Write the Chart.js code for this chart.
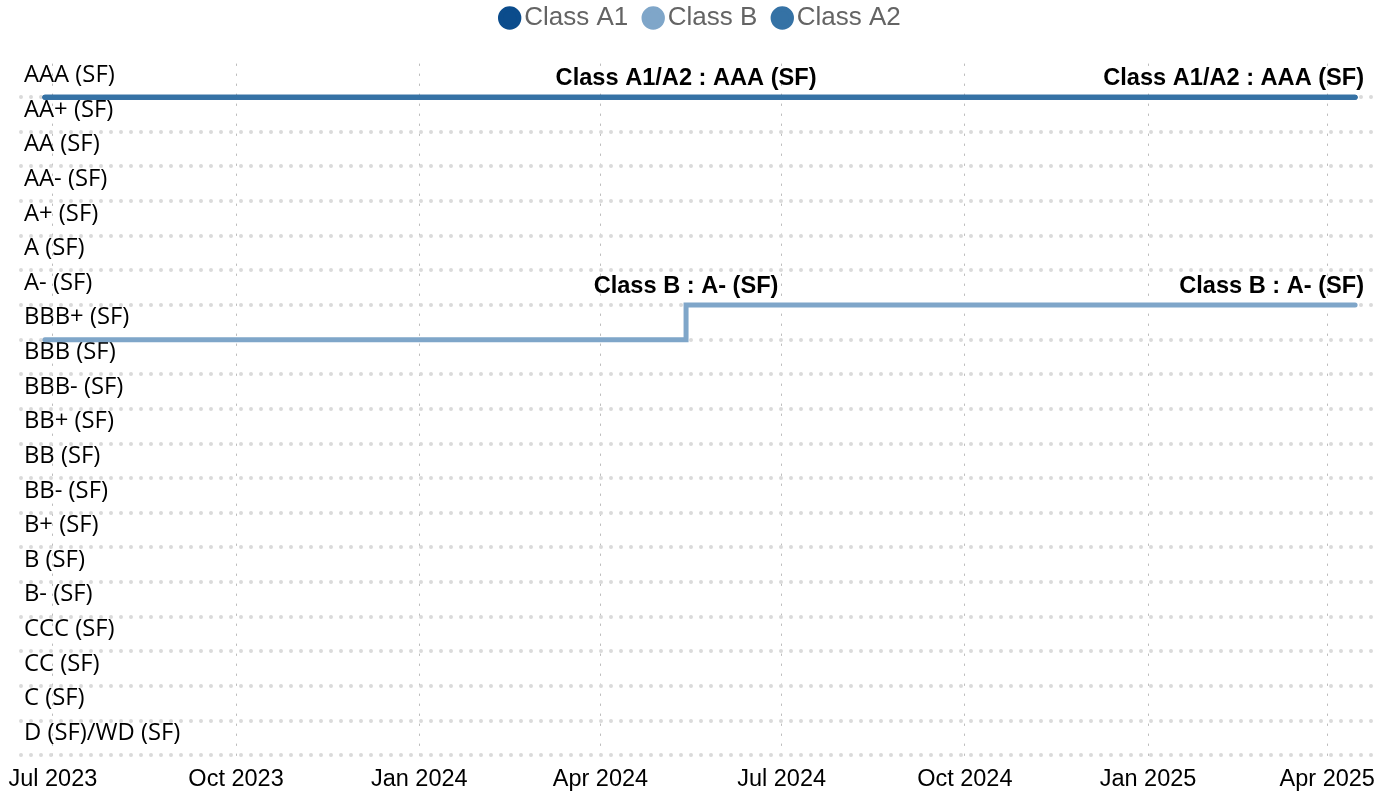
<!DOCTYPE html>
<html>
<head>
<meta charset="utf-8">
<script src="https://cdn.jsdelivr.net/npm/chart.js@4.4.1/dist/chart.umd.min.js"></script>
<style>
  html, body { margin: 0; padding: 0; background: #fff; }
  #wrap { width: 1377px; height: 792px; position: relative; }
</style>
</head>
<body>
<div id="wrap"><canvas id="ratingChart"></canvas></div>
<script>
// rating scale, top to bottom
const ratings = [
  "AAA (SF)", "AA+ (SF)", "AA (SF)", "AA- (SF)", "A+ (SF)", "A (SF)", "A- (SF)",
  "BBB+ (SF)", "BBB (SF)", "BBB- (SF)", "BB+ (SF)", "BB (SF)", "BB- (SF)",
  "B+ (SF)", "B (SF)", "B- (SF)", "CCC (SF)", "CC (SF)", "C (SF)", "D (SF)/WD (SF)"
];
const dates = ["2023-06-27", "2024-05-14", "2025-04-15"];
const classA1 = ["AAA (SF)", "AAA (SF)", "AAA (SF)"];
const classB = ["BBB+ (SF)", "A- (SF)", "A- (SF)"];
const classA2 = ["AAA (SF)", "AAA (SF)", "AAA (SF)"];

const tickDates = ["2023-07-01", "2023-10-01", "2024-01-01", "2024-04-01",
                   "2024-07-01", "2024-10-01", "2025-01-01", "2025-04-01"];
const tickLabels = ["Jul 2023", "Oct 2023", "Jan 2024", "Apr 2024",
                    "Jul 2024", "Oct 2024", "Jan 2025", "Apr 2025"];

// rating labels written on the lines
const noteTexts = ["Class A1/A2 : AAA (SF)", "Class A1/A2 : AAA (SF)", "Class B : A- (SF)", "Class B : A- (SF)"];
const noteDates = ["2024-05-14", "2025-04-15", "2024-05-14", "2025-04-15"];
const noteRatings = ["AAA (SF)", "AAA (SF)", "A- (SF)", "A- (SF)"];

const day = d => Date.parse(d + "T00:00:00Z");
const level = r => ratings.length - 1 - ratings.indexOf(r);
const points = vals => dates.map((d, i) => ({ x: day(d), y: level(vals[i]) }));

const sans = "'Liberation Sans', Arial, sans-serif";

const notesPlugin = {
  id: "notes",
  afterDatasetsDraw(chart) {
    const { ctx, scales: { x, y } } = chart;
    const lastDate = dates[dates.length - 1];
    ctx.save();
    ctx.font = "bold 23.6px " + sans;
    ctx.fillStyle = "#000";
    ctx.textBaseline = "alphabetic";
    noteTexts.forEach((t, i) => {
      const atEnd = noteDates[i] === lastDate;
      ctx.textAlign = atEnd ? "right" : "center";
      const px = x.getPixelForValue(day(noteDates[i])) + (atEnd ? 9 : 0);
      const py = y.getPixelForValue(level(noteRatings[i])) - 12;
      ctx.fillText(t, px, py);
    });
    ctx.restore();
  }
};

// dotted gridlines need round caps
const roundDots = {
  id: "roundDots",
  beforeDraw(chart) { chart.ctx.lineCap = "round"; }
};

const line = (label, vals, color, order) => ({
  label,
  data: points(vals),
  borderColor: color,
  backgroundColor: color,
  borderWidth: 5,
  borderCapStyle: "round",
  stepped: true,
  pointRadius: 0,
  fill: false,
  order
});

const ctx = document.getElementById("ratingChart");
const ratingChart = new Chart(ctx, {
  type: "line",
  data: {
    datasets: [
      line("Class A1", classA1, "#0b4c8c", 2),
      line("Class B", classB, "#7fa6c9", 1),
      line("Class A2", classA2, "#3572a5", 0)
    ]
  },
  options: {
    responsive: true,
    maintainAspectRatio: false,
    animation: false,
    // negative right padding only nudges the legend; the plot stays inside
    layout: { padding: { top: -18.5, left: 15, right: -17, bottom: -7.5 } },
    plugins: {
      legend: {
        position: "top",
        labels: {
          usePointStyle: true,
          pointStyle: "circle",
          boxWidth: 3,
          boxHeight: 13,
          padding: 23.5,
          color: "#646464",
          font: { family: sans, size: 26 },
          sort: (a, b) => a.datasetIndex - b.datasetIndex
        }
      },
      title: { display: true, text: "", weight: 500, padding: 0, font: { size: 23, lineHeight: 1 } },
      tooltip: { enabled: false }
    },
    scales: {
      x: {
        type: "linear",
        min: day("2023-06-15"),
        max: day("2025-04-26"),
        afterBuildTicks: s => { s.ticks = tickDates.map(d => ({ value: day(d) })); },
        afterFit: s => { s.paddingLeft = 0; s.paddingRight = 0; },
        ticks: {
          callback: (v, i) => tickLabels[i],
          maxRotation: 0,
          autoSkip: false,
          padding: 6,
          color: "#000",
          font: { family: sans, size: 23.5 }
        },
        grid: { color: "#bdbdbd", lineWidth: 1, drawTicks: false },
        border: { display: false, dash: [1.5, 8.5] }
      },
      y: {
        type: "linear",
        min: -0.12,
        max: 19.96,
        afterBuildTicks: s => { s.ticks = ratings.map((r, i) => ({ value: i })); },
        afterFit: s => { s.paddingTop = 0; s.paddingBottom = 0; },
        ticks: {
          mirror: true,
          padding: 3,
          labelOffset: -22,
          callback: v => ratings[ratings.length - 1 - v],
          color: "#000",
          font: { family: "'Open Sans', sans-serif", size: 23.8 }
        },
        grid: { color: "#dadada", lineWidth: 4, drawTicks: false },
        border: { display: false, dash: [0, 10] }
      }
    }
  },
  plugins: [notesPlugin, roundDots]
});
</script>
</body>
</html>
